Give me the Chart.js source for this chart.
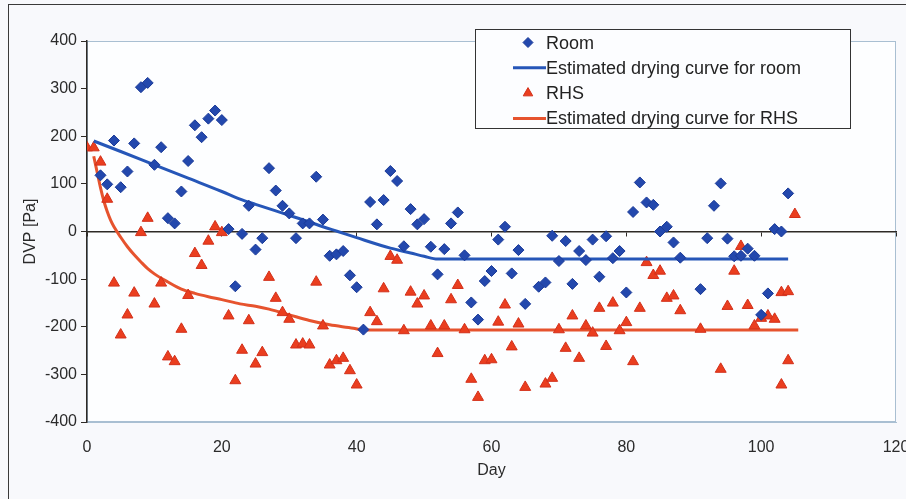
<!DOCTYPE html>
<html>
<head>
<meta charset="utf-8">
<script src="https://cdn.jsdelivr.net/npm/chart.js@4/dist/chart.umd.min.js"></script>
<style>
  html, body { margin: 0; padding: 0; background: #f8f9fc; }
  #wrap { position: relative; width: 906px; height: 499px; overflow: hidden; }
  #c { position: absolute; left: 0; top: 0; }
  #frame { position: absolute; left: 8px; top: 4px; width: 920px; height: 520px;
           border-left: 1.5px solid #3a3a3a; border-top: 1.5px solid #3a3a3a; pointer-events: none; }
  #legend { position: absolute; left: 475px; top: 29px; width: 376px; height: 100px; box-sizing: border-box;
            border: 1.5px solid #333; background: #fcfdff;
            font: 18px "Liberation Sans", Arial, sans-serif; color: #222; }
  #legend canvas { position: absolute; left: 0; top: 0; }
  #legend span { position: absolute; left: 70px; height: 24px; line-height: 24px; white-space: nowrap; }
</style>
</head>
<body>
<div id="wrap">
  <canvas id="c" width="906" height="499"></canvas>
  <div id="frame"></div>
  <div id="legend"></div>
</div>
<script>
// Measured DVP (Pa) per day, room and RHS sensors
const roomDays = [2,3,4,5,6,7,8,9,10,11,12,13,14,15,16,17,18,19,20,21,22,23,24,25,26,27,28,29,30,31,32,33,34,35,36,37,38,39,40,41,42,43,44,45,46,47,48,49,50,51,52,53,54,55,56,57,58,59,60,61,62,63,64,65,67,68,69,70,71,72,73,74,75,76,77,78,79,80,81,82,83,84,85,86,87,88,91,92,93,94,95,96,97,98,99,100,101,102,103,104];
const roomDvp = [118,99,191,93,126,185,303,312,140,177,28,17,84,148,223,198,237,254,234,5,-115,-5,54,-38,-14,133,86,54,38,-14,17,17,115,25,-51,-48,-41,-92,-117,-206,62,15,66,127,106,-31,47,15,26,-32,-90,-37,17,40,-50,-149,-185,-104,-83,-17,10,-88,-39,-152,-116,-107,-9,-62,-20,-110,-41,-60,-17,-95,-10,-56,-41,-128,41,103,61,56,0,10,-23,-55,-121,-14,54,101,-15,-52,-51,-36,-51,-175,-130,5,0,80];

const rhsDays = [0,1,2,3,4,5,6,7,8,9,10,11,12,13,14,15,16,17,18,19,20,21,22,23,24,25,26,27,28,29,30,31,32,33,34,35,36,37,38,39,40,42,43,44,45,46,47,48,49,50,51,52,53,54,55,56,57,58,59,60,61,62,63,64,65,68,69,70,71,72,73,74,75,76,77,78,79,80,81,82,83,84,85,86,87,88,91,94,95,96,97,98,99,100,101,102,103,103,104,104,105];
const rhsDvp = [176,176,146,68,-108,-217,-175,-129,-2,28,-152,-108,-263,-273,-205,-134,-46,-71,-20,10,-2,-177,-313,-249,-187,-278,-254,-96,-140,-170,-184,-238,-236,-238,-106,-198,-280,-271,-266,-292,-322,-170,-189,-120,-52,-60,-208,-127,-152,-135,-198,-256,-198,-143,-113,-206,-310,-348,-271,-269,-190,-154,-242,-194,-327,-320,-308,-206,-245,-177,-266,-198,-213,-161,-241,-150,-208,-191,-273,-161,-65,-92,-83,-140,-135,-166,-205,-289,-157,-83,-31,-155,-198,-182,-177,-184,-128,-322,-126,-271,36];

// Estimated drying curves
const roomCurveDays = [1,5,10,15,20,22.7,25,30,33,35,37.2,40,45,48,50,52,104];
const roomCurveDvp = [190,168,140,112,84,68,57,34,20,10,0,-13,-35,-45,-52,-58,-58];
const rhsCurveDays = [1,1.5,2,2.5,3,3.5,4,5,6,7,8,9,10,12,14,16,18,20,22.7,25,27,30,33,36,39.5,41,105.5];
const rhsCurveDvp = [158,125,92,64,42,24,10,-12,-32,-49,-64,-78,-89,-106,-121,-130,-137,-143,-152,-157,-163,-175,-187,-196,-203,-207,-207];

// Axis ticks
const dayTicks = [0,20,40,60,80,100,120];
const dvpTicks = [-400,-300,-200,-100,0,100,200,300,400];

const seriesNames = ['Room', 'Estimated drying curve for room', 'RHS', 'Estimated drying curve for RHS'];

const pts = (xs, ys) => xs.map((x, i) => ({ x: x, y: ys[i] }));

const BLUE = '#2348ad';
const BLUE_EDGE = '#1a3a98';
const BLUE_LINE = '#2656b8';
const RED = '#ea3e1f';
const RED_EDGE = '#d3301a';
const RED_LINE = '#e6532e';
const FONT = '"Liberation Sans", Arial, sans-serif';
const TEXT = '#2b2b2b';

Chart.defaults.font.family = FONT;

const fixTicks = list => scale => { scale.ticks = list.map(v => ({ value: v })); };

const plotBackground = {
  id: 'plotBackground',
  beforeDraw(chart) {
    const a = chart.chartArea, ctx = chart.ctx;
    ctx.save();
    ctx.fillStyle = '#fdfeff';
    ctx.fillRect(a.left, a.top, a.right - a.left, a.bottom - a.top);
    ctx.strokeStyle = '#a9bfd2';
    ctx.lineWidth = 1;
    ctx.strokeRect(a.left + 0.5, a.top + 0.5, a.right - a.left - 1, a.bottom - a.top - 1);
    ctx.restore();
  }
};

const chart = new Chart(document.getElementById('c'), {
  type: 'scatter',
  data: {
    datasets: [
      { label: seriesNames[0], data: pts(roomDays, roomDvp), pointStyle: 'rectRot', pointRadius: 5.5,
        backgroundColor: BLUE, borderColor: BLUE_EDGE, borderWidth: 1 },
      { label: seriesNames[1], data: pts(roomCurveDays, roomCurveDvp), showLine: true, pointRadius: 0,
        borderColor: BLUE_LINE, backgroundColor: BLUE_LINE, borderWidth: 3, cubicInterpolationMode: 'monotone' },
      { label: seriesNames[2], data: pts(rhsDays, rhsDvp), pointStyle: 'triangle', pointRadius: 6.3,
        backgroundColor: RED, borderColor: RED_EDGE, borderWidth: 1 },
      { label: seriesNames[3], data: pts(rhsCurveDays, rhsCurveDvp), showLine: true, pointRadius: 0,
        borderColor: RED_LINE, backgroundColor: RED_LINE, borderWidth: 3, cubicInterpolationMode: 'monotone' }
    ]
  },
  options: {
    responsive: false,
    animation: false,
    layout: { padding: { left: 0, top: 41, right: 10, bottom: 0 } },
    plugins: { legend: { display: false }, tooltip: { enabled: false } },
    scales: {
      x: {
        type: 'linear', position: 'bottom', min: 0, max: 120,
        afterBuildTicks: fixTicks(dayTicks),
        afterFit: s => { s.height = 77; s.paddingLeft = 0; s.paddingRight = 0; },
        border: { color: '#a9bfd2', width: 1 },
        grid: { display: false, drawTicks: false },
        ticks: { padding: 16, color: TEXT, font: { size: 16 }, maxRotation: 0, autoSkip: false },
        title: { display: true, text: 'Day', color: TEXT, font: { size: 16 }, padding: { top: 0, bottom: 19 } }
      },
      xZero: {
        type: 'linear', axis: 'x', position: { y: 0 }, min: 0, max: 120,
        afterBuildTicks: fixTicks(dayTicks),
        border: { color: '#2e2a26', width: 1.5 },
        grid: { display: true, drawOnChartArea: false, drawTicks: true, tickLength: 4, color: '#2e2a26', lineWidth: 1 },
        ticks: { display: false }
      },
      y: {
        type: 'linear', min: -400, max: 400,
        afterBuildTicks: fixTicks(dvpTicks),
        afterFit: s => { s.width = 87; },
        border: { color: '#2e2a26', width: 1.5 },
        grid: { display: true, drawOnChartArea: false, drawTicks: true, tickLength: 6, tickColor: '#2e2a26', color: '#2e2a26' },
        ticks: { padding: 4, color: TEXT, font: { size: 16 } },
        title: { display: true, text: 'DVP [Pa]', color: TEXT, font: { size: 16 }, padding: { top: 21, bottom: 0 } }
      }
    }
  },
  plugins: [plotBackground]
});

// Boxed legend built from the chart's datasets
(function buildLegend() {
  const box = document.getElementById('legend');
  const cv = document.createElement('canvas');
  cv.width = 100; cv.height = 100;
  box.appendChild(cv);
  const g = cv.getContext('2d');
  const rowH = 25.3, firstRow = 12.5;
  chart.data.datasets.forEach((ds, i) => {
    const cy = firstRow + i * rowH;
    if (ds.showLine) {
      g.strokeStyle = ds.borderColor;
      g.lineWidth = 3;
      g.beginPath(); g.moveTo(37, cy); g.lineTo(70, cy); g.stroke();
    } else {
      g.fillStyle = ds.backgroundColor;
      g.strokeStyle = ds.borderColor;
      g.lineWidth = 1;
      Chart.helpers.drawPoint(g, { pointStyle: ds.pointStyle, radius: ds.pointStyle === 'triangle' ? 5.5 : 5, rotation: 0, borderWidth: 1 }, 52, cy);
    }
    const s = document.createElement('span');
    s.textContent = ds.label;
    s.style.top = (cy - 12) + 'px';
    box.appendChild(s);
  });
})();
</script>
</body>
</html>
